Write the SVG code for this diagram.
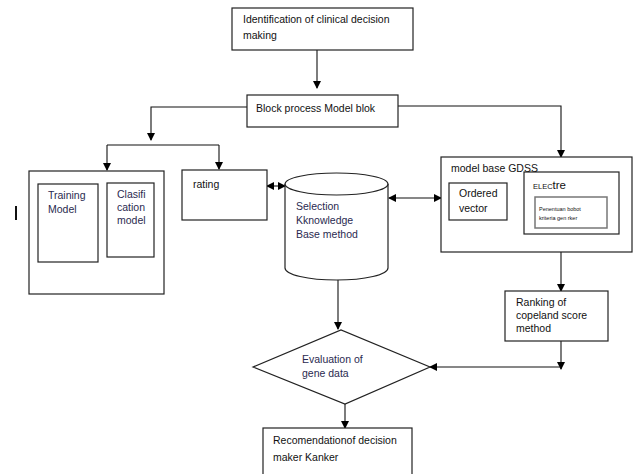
<svg xmlns="http://www.w3.org/2000/svg" width="634" height="474" viewBox="0 0 634 474">
<defs>
<marker id="ah" markerWidth="8" markerHeight="8" refX="7" refY="4" orient="auto" markerUnits="userSpaceOnUse">
<path d="M0,0 L8,4 L0,8 Z" fill="#000"/>
</marker>
<marker id="ahs" markerWidth="8" markerHeight="8" refX="1" refY="4" orient="auto" markerUnits="userSpaceOnUse">
<path d="M8,0 L0,4 L8,8 Z" fill="#000"/>
</marker>
<style>
.box{fill:#fff;stroke:#222;stroke-width:1.2}
.t{font-family:"Liberation Sans",Arial,sans-serif;font-size:10.5px;fill:#111}
.d{fill:#2a2a50}
.s{font-size:5.5px}
.c{fill:none;stroke:#111;stroke-width:1.1}
</style>
</defs>
<rect width="634" height="474" fill="#fff"/>

<g id="connectors">
<path class="c" d="M317,50 V88" marker-end="url(#ah)"/>
<path class="c" d="M247,107 H151 V140" marker-end="url(#ah)"/>
<path class="c" d="M107,145 H219"/>
<path class="c" d="M107,145 V170" marker-end="url(#ah)"/>
<path class="c" d="M219,145 V169" marker-end="url(#ah)"/>
<path class="c" d="M398,106 H561 V157" marker-end="url(#ah)"/>
<path class="c" d="M98,253 H106" marker-end="url(#ah)"/>
<path class="c" d="M267,186 H285" marker-start="url(#ahs)" marker-end="url(#ah)"/>
<path class="c" d="M389,198 H441" marker-start="url(#ahs)" marker-end="url(#ah)"/>
<path class="c" d="M561,252 V291" marker-end="url(#ah)"/>
<path class="c" d="M561,341 V369" marker-end="url(#ah)"/>
<path class="c" d="M561,367 H430" marker-end="url(#ah)"/>
<path class="c" d="M338,280 V329" marker-end="url(#ah)"/>
<path class="c" d="M345,404 V428" marker-end="url(#ah)"/>
</g>

<g id="n-identification">
<rect class="box" x="232" y="8" width="181" height="42"/>
<text class="t" x="243" y="23">Identification of clinical decision</text>
<text class="t" x="243" y="39">making</text>
</g>

<g id="n-block">
<rect class="box" x="247" y="95" width="151" height="32"/>
<text class="t" x="256" y="112">Block process Model blok</text>
</g>

<g id="n-left-group">
<rect class="box" x="29" y="171" width="135" height="123"/>
</g>

<g id="n-training">
<rect class="box" x="38" y="184" width="60" height="78"/>
<text class="t d" x="48" y="199">Training</text>
<text class="t d" x="48" y="213">Model</text>
</g>

<g id="n-clasification">
<rect class="box" x="107" y="183" width="47" height="74"/>
<text class="t d" x="117" y="198">Clasifi</text>
<text class="t d" x="117" y="211">cation</text>
<text class="t d" x="117" y="224">model</text>
</g>

<g id="n-bar">
<rect x="15" y="206" width="2" height="14" fill="#111"/>
</g>

<g id="n-rating">
<rect class="box" x="182" y="170" width="85" height="50"/>
<text class="t" x="193" y="188">rating</text>
</g>

<g id="n-selection">
<path class="box" d="M285,184 V268 A51.5,12 0 0 0 388,268 V184"/>
<ellipse class="box" cx="336.5" cy="184" rx="51.5" ry="11"/>
<text class="t d" x="296" y="210">Selection</text>
<text class="t d" x="296" y="224">Kknowledge</text>
<text class="t d" x="296" y="238">Base method</text>
</g>

<g id="n-modelbase">
<rect class="box" x="441" y="157" width="191" height="95"/>
<text class="t" x="451" y="172">model base GDSS</text>
</g>

<g id="n-ordered">
<rect class="box" x="449" y="183" width="58" height="37"/>
<text class="t" x="459" y="197">Ordered</text>
<text class="t" x="459" y="212">vector</text>
</g>

<g id="n-electre">
<rect class="box" x="524" y="172" width="95" height="62" fill="none"/>
<text class="t" x="533" y="189"><tspan font-size="7.5">ELEC</tspan><tspan font-size="11.5">tre</tspan></text>
<rect x="535" y="197" width="72" height="31" fill="#fff" stroke="#777" stroke-width="1.5"/>
<text class="t s" x="539" y="211">Penentuan  bobot</text>
<text class="t s" x="539" y="220">kriteria gen rker</text>
</g>

<g id="n-ranking">
<rect class="box" x="505" y="291" width="103" height="50"/>
<text class="t" x="516" y="306">Ranking  of</text>
<text class="t" x="516" y="319">copeland score</text>
<text class="t" x="516" y="332">method</text>
</g>

<g id="n-evaluation">
<polygon class="box" points="253,367 341,330 430,367 345,404"/>
<text class="t d" x="302" y="363">Evaluation of</text>
<text class="t d" x="302" y="377">gene  data</text>
</g>

<g id="n-recommendation">
<rect class="box" x="263" y="428" width="149" height="50"/>
<text class="t" x="273" y="444">Recomendationof decision</text>
<text class="t" x="273" y="461">maker  Kanker</text>
</g>
</svg>
